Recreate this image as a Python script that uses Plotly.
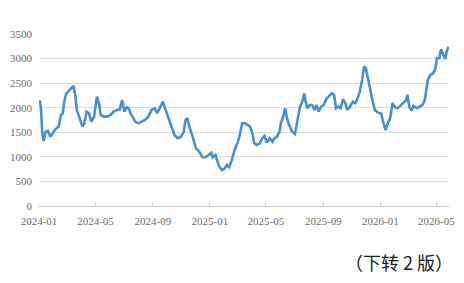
import plotly.graph_objects as go

dates = [
    "2024-01-02", "2024-01-05", "2024-01-08", "2024-01-11", "2024-01-15", "2024-01-20", "2024-01-25", "2024-01-31",
    "2024-02-05", "2024-02-12", "2024-02-17", "2024-02-21", "2024-02-24", "2024-02-28", "2024-03-06", "2024-03-12",
    "2024-03-15", "2024-03-19", "2024-03-22", "2024-03-27", "2024-04-03", "2024-04-07", "2024-04-12", "2024-04-17",
    "2024-04-22", "2024-04-28", "2024-05-04", "2024-05-09", "2024-05-12", "2024-05-19", "2024-05-26", "2024-06-02",
    "2024-06-09", "2024-06-16", "2024-06-22", "2024-06-27", "2024-07-02", "2024-07-07", "2024-07-11", "2024-07-15",
    "2024-07-25", "2024-08-01", "2024-08-08", "2024-08-15", "2024-08-22", "2024-08-29", "2024-09-05", "2024-09-10",
    "2024-09-17", "2024-09-22", "2024-09-27", "2024-10-03", "2024-10-10", "2024-10-17", "2024-10-24", "2024-10-31",
    "2024-11-06", "2024-11-10", "2024-11-14", "2024-11-18", "2024-11-25", "2024-12-02", "2024-12-09", "2024-12-16",
    "2024-12-23", "2024-12-30", "2025-01-04", "2025-01-07", "2025-01-13", "2025-01-16", "2025-01-21", "2025-01-27",
    "2025-02-02", "2025-02-06", "2025-02-11", "2025-02-17", "2025-02-23", "2025-03-02", "2025-03-06", "2025-03-11",
    "2025-03-17", "2025-03-23", "2025-03-28", "2025-04-02", "2025-04-06", "2025-04-11", "2025-04-18", "2025-04-23",
    "2025-04-28", "2025-05-03", "2025-05-09", "2025-05-15", "2025-05-19", "2025-05-25", "2025-05-30", "2025-06-02",
    "2025-06-08", "2025-06-11", "2025-06-15", "2025-06-20", "2025-06-26", "2025-07-02", "2025-07-06", "2025-07-10",
    "2025-07-13", "2025-07-18", "2025-07-22", "2025-07-25", "2025-07-29", "2025-08-03", "2025-08-08", "2025-08-13",
    "2025-08-17", "2025-08-22", "2025-08-27", "2025-09-02", "2025-09-07", "2025-09-12", "2025-09-19", "2025-09-24",
    "2025-09-28", "2025-10-03", "2025-10-08", "2025-10-13", "2025-10-18", "2025-10-22", "2025-10-28", "2025-11-03",
    "2025-11-08", "2025-11-12", "2025-11-18", "2025-11-23", "2025-11-27", "2025-12-01", "2025-12-04", "2025-12-09",
    "2025-12-15", "2025-12-20", "2025-12-27", "2026-01-03", "2026-01-06", "2026-01-12", "2026-01-17", "2026-01-22",
    "2026-01-27", "2026-02-02", "2026-02-07", "2026-02-13", "2026-02-17", "2026-02-24", "2026-02-28", "2026-03-04",
    "2026-03-09", "2026-03-13", "2026-03-20", "2026-03-25", "2026-04-01", "2026-04-06", "2026-04-10", "2026-04-13",
    "2026-04-18", "2026-04-24", "2026-04-29", "2026-05-02", "2026-05-07", "2026-05-11", "2026-05-16", "2026-05-20",
    "2026-05-23", "2026-05-27",
]

values = [
    2150, 2020, 1480, 1320, 1510, 1530, 1410, 1480,
    1560, 1614, 1850, 1890, 2120, 2280, 2360, 2430,
    2444, 2226, 1955, 1818, 1614, 1683, 1920, 1887,
    1717, 1818, 2226, 2056, 1853, 1818, 1818, 1853,
    1920, 1955, 1968, 2157, 1920, 2009, 1989, 1887,
    1717, 1683, 1717, 1750, 1818, 1955, 1989, 1887,
    2021, 2123, 1989, 1818, 1614, 1446, 1378, 1411,
    1513, 1750, 1785, 1614, 1411, 1175, 1106, 991,
    991, 1038, 1085, 991, 1038, 937, 800, 733,
    767, 835, 788, 937, 1140, 1309, 1446, 1683,
    1683, 1650, 1614, 1480, 1276, 1242, 1276, 1378,
    1425, 1289, 1378, 1309, 1378, 1411, 1513, 1683,
    1853, 1989, 1785, 1650, 1513, 1466, 1650, 1818,
    2021, 2123, 2290, 2123, 1989, 2056, 2056, 1955,
    2056, 1920, 2021, 2056, 2172, 2226, 2294, 2260,
    1989, 2021, 1989, 2172, 2091, 1955, 2021, 2123,
    2091, 2157, 2328, 2566, 2837, 2803, 2633, 2430,
    2157, 1960, 1900, 1880, 1750, 1547, 1683, 1785,
    2090, 2000, 1990, 2050, 2070, 2140, 2260, 2021,
    1940, 2040, 1990, 2021, 2056, 2157, 2362, 2566,
    2668, 2702, 2803, 3006, 3006, 3190, 3074, 2990,
    3141, 3243,
]

x_ticks = ["2024-01-01", "2024-05-01", "2024-09-01", "2025-01-01",
           "2025-05-01", "2025-09-01", "2026-01-01", "2026-05-01"]
x_tick_labels = ["2024-01", "2024-05", "2024-09", "2025-01",
                 "2025-05", "2025-09", "2026-01", "2026-05"]
y_ticks = [0, 500, 1000, 1500, 2000, 2500, 3000, 3500]
note_text = "（下转 2 版）"

fig = go.Figure()
fig.add_trace(go.Scatter(
    x=dates, y=values, mode="lines",
    line=dict(color="#4a8fca", width=2.6),
    hoverinfo="skip",
))

tick_font = dict(family="Liberation Serif", size=11, color="#6e6e6e")

fig.update_layout(
    width=464, height=283,
    margin=dict(l=39, r=9, t=34, b=77),
    paper_bgcolor="white", plot_bgcolor="white",
    showlegend=False,
    xaxis=dict(
        range=["2024-01-01", "2026-05-28"],
        tickvals=x_ticks, ticktext=x_tick_labels,
        ticks="inside", ticklen=4, tickcolor="#cfcfcf", tickwidth=1,
        showgrid=False, showline=True, linecolor="#d0d0d0", linewidth=1.2,
        zeroline=False, tickfont=tick_font, ticklabelstandoff=5,
    ),
    yaxis=dict(
        range=[0, 3500], tickvals=y_ticks,
        showgrid=True, gridcolor="#dcdcdc", gridwidth=1.3,
        zeroline=False, showline=False, ticks="",
        tickfont=tick_font, ticklabelstandoff=6,
    ),
)
fig.add_annotation(
    text=note_text, xref="paper", yref="paper",
    x=1.0, xanchor="right", y=-0.325, yanchor="middle", xshift=6,
    showarrow=False,
    font=dict(family="Noto Sans CJK SC", size=18, color="#222222"),
)

fig.write_html(
    "out.html",
    config={"displayModeBar": False},
    post_script="document.body.style.margin='0';document.body.style.padding='0';",
)
